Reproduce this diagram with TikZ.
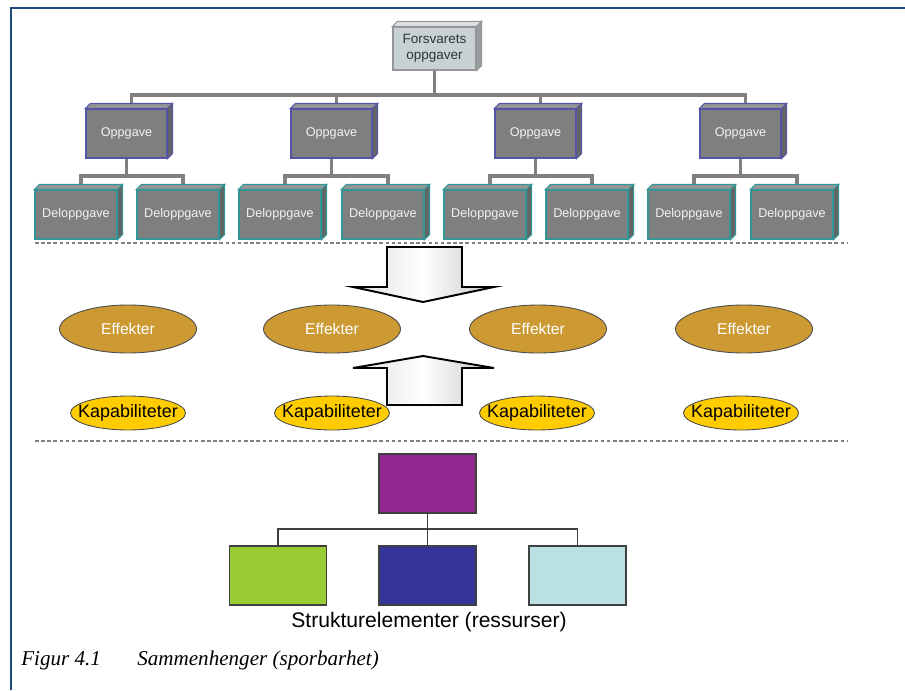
\documentclass[tikz,border=0pt]{standalone}
\usepackage{fontspec}
\setmainfont{Liberation Serif}
\setsansfont{Liberation Sans}
\usepackage{tikz}
\usetikzlibrary{shapes.geometric}

\definecolor{framec}{RGB}{31,73,125}
\definecolor{barc}{RGB}{128,128,128}
\definecolor{boxc}{RGB}{127,127,127}
\definecolor{boxtop}{RGB}{150,150,150}
\definecolor{boxside}{RGB}{100,100,100}
\definecolor{oppc}{RGB}{85,85,165}
\definecolor{delc}{RGB}{50,150,150}
\definecolor{headc}{RGB}{200,210,213}
\definecolor{headtop}{RGB}{222,228,230}
\definecolor{headside}{RGB}{150,160,163}
\definecolor{headedge}{RGB}{150,150,150}
\definecolor{effc}{RGB}{204,153,51}
\definecolor{kapc}{RGB}{255,204,0}
\definecolor{purp}{RGB}{146,39,143}
\definecolor{grn}{RGB}{153,204,51}
\definecolor{navyc}{RGB}{51,51,153}
\definecolor{ltcyan}{RGB}{187,224,227}

\newcommand{\dep}{5}

\begin{document}
\begin{tikzpicture}[x=0.02cm, y=-0.02cm,
    head/.style={rectangle, draw=headedge, fill=headc, line width=0.6pt, minimum width=1.66cm,
        minimum height=0.86cm, inner sep=0pt, align=center, text=black!80,
        font=\sffamily\fontsize{7.7}{9}\selectfont},
    opp/.style={rectangle, draw=oppc, fill=boxc, line width=0.6pt, minimum width=1.62cm,
        minimum height=0.98cm, inner sep=0pt, text=white!95!black,
        font=\sffamily\fontsize{7.2}{8}\selectfont},
    delopp/.style={opp, draw=delc, minimum width=1.64cm},
    bar/.style={barc, line width=2.2pt},
    sep/.style={gray, line width=0.6pt, dash pattern=on 2pt off 1.5pt},
    effekt/.style={ellipse, draw=black!70, fill=effc, line width=0.5pt, minimum width=2.74cm,
        minimum height=0.96cm, inner sep=0pt, text=white,
        font=\sffamily\fontsize{8.9}{10}\selectfont},
    kap/.style={ellipse, draw=black!70, fill=kapc, line width=0.5pt, minimum width=2.3cm,
        minimum height=0.68cm, inner xsep=-5.5pt, inner ysep=0pt, text=black,
        font=\sffamily\fontsize{10.2}{12}\selectfont},
    bigarrow/.style={draw=black, line width=1.1pt, line join=miter,
        left color=gray!25, right color=gray!45, middle color=white},
    elem/.style={rectangle, draw=black!75, line width=0.6pt, minimum width=1.94cm,
        minimum height=1.18cm, inner sep=0pt},
    thinline/.style={black!75, line width=0.6pt}]
\useasboundingbox (0,0) rectangle (905,690);

% frame
\draw[framec, line width=1.4pt] (11,690) -- (11,8) -- (905,8);

% top of the tree
\node[head] (t) at (434.5,48.5) {Forsvarets\\oppgaver};
\node[opp] (o1) at (126.5,133.5) {Oppgave};
\node[opp] (o2) at (331.5,133.5) {Oppgave};
\node[opp] (o3) at (535.5,133.5) {Oppgave};
\node[opp] (o4) at (740.5,133.5) {Oppgave};
\node[delopp] (d1) at (76,214.5) {Deloppgave};
\node[delopp] (d2) at (178,214.5) {Deloppgave};
\node[delopp] (d3) at (280,214.5) {Deloppgave};
\node[delopp] (d4) at (383,214.5) {Deloppgave};
\node[delopp] (d5) at (485,214.5) {Deloppgave};
\node[delopp] (d6) at (587,214.5) {Deloppgave};
\node[delopp] (d7) at (689,214.5) {Deloppgave};
\node[delopp] (d8) at (792,214.5) {Deloppgave};

% connectors
\coordinate (busO) at (0,95);
\coordinate (busD) at (0,176);
\foreach \n in {o1,o2,o3,o4}
    \draw[bar] (t.south) -- (t.south |- busO) -| ([shift={(\dep,-\dep)}]\n.north);
\foreach \o/\a/\b in {o1/d1/d2, o2/d3/d4, o3/d5/d6, o4/d7/d8} {
    \draw[bar] (\o.south) -- (\o.south |- busD) -| ([shift={(\dep,-\dep)}]\a.north);
    \draw[bar] (\o.south |- busD) -| ([shift={(\dep,-\dep)}]\b.north);
}

% 3d faces
\filldraw[fill=headtop, draw=headedge, line width=0.6pt] (t.north west) -- ++(\dep,-\dep)
    -- ([shift={(\dep,-\dep)}]t.north east) -- (t.north east) -- cycle;
\filldraw[fill=headside, draw=headedge, line width=0.6pt] (t.north east) -- ++(\dep,-\dep)
    -- ([shift={(\dep,-\dep)}]t.south east) -- (t.south east) -- cycle;
\foreach \n/\c in {o1/oppc,o2/oppc,o3/oppc,o4/oppc,d1/delc,d2/delc,d3/delc,d4/delc,
                   d5/delc,d6/delc,d7/delc,d8/delc} {
    \filldraw[fill=boxtop, draw=\c, line width=0.6pt] (\n.north west) -- ++(\dep,-\dep)
        -- ([shift={(\dep,-\dep)}]\n.north east) -- (\n.north east) -- cycle;
    \filldraw[fill=boxside, draw=\c, line width=0.6pt] (\n.north east) -- ++(\dep,-\dep)
        -- ([shift={(\dep,-\dep)}]\n.south east) -- (\n.south east) -- cycle;
}

% separators
\draw[sep] (35,243) -- (848,243);
\draw[sep] (35,441) -- (848,441);

% effects and capabilities
\node[effekt] (e1) at (128,329) {Effekter};
\node[effekt] (e2) at (332,329) {Effekter};
\node[effekt] (e3) at (538,329) {Effekter};
\node[effekt] (e4) at (744,329) {Effekter};
\node[kap] (k1) at (128,413) {Kapabiliteter};
\node[kap] (k2) at (332,413) {Kapabiliteter};
\node[kap] (k3) at (537,413) {Kapabiliteter};
\node[kap] (k4) at (741,413) {Kapabiliteter};

% big arrows
\draw[bigarrow] (387,247) -- (462,247) -- (462,287) -- (494,287) -- (423,302)
    -- (353,287) -- (387,287) -- cycle;
\draw[bigarrow] (423,356) -- (494,368) -- (462,368) -- (462,405) -- (387,405)
    -- (387,368) -- (353,368) -- cycle;

% structure elements
\node[elem, fill=purp] (p) at (427.5,483.5) {};
\node[elem, fill=grn] (s1) at (278,575.5) {};
\node[elem, fill=navyc] (s2) at (427.5,575.5) {};
\node[elem, fill=ltcyan] (s3) at (577.5,575.5) {};
\coordinate (busS) at (0,529);
\foreach \n in {s1,s2,s3}
    \draw[thinline] (p.south) -- (p.south |- busS) -| (\n.north);
\node[anchor=base, font=\sffamily\fontsize{12}{14}\selectfont] (st) at (429,627)
    {Strukturelementer (ressurser)};

% caption
\node[anchor=base west, inner sep=0pt, font=\itshape\fontsize{12}{14}\selectfont] (c1)
    at (21,665) {Figur 4.1};
\node[anchor=base west, inner sep=0pt, font=\itshape\fontsize{12}{14}\selectfont] (c2)
    at (137,665) {Sammenhenger (sporbarhet)};
\end{tikzpicture}
\end{document}
